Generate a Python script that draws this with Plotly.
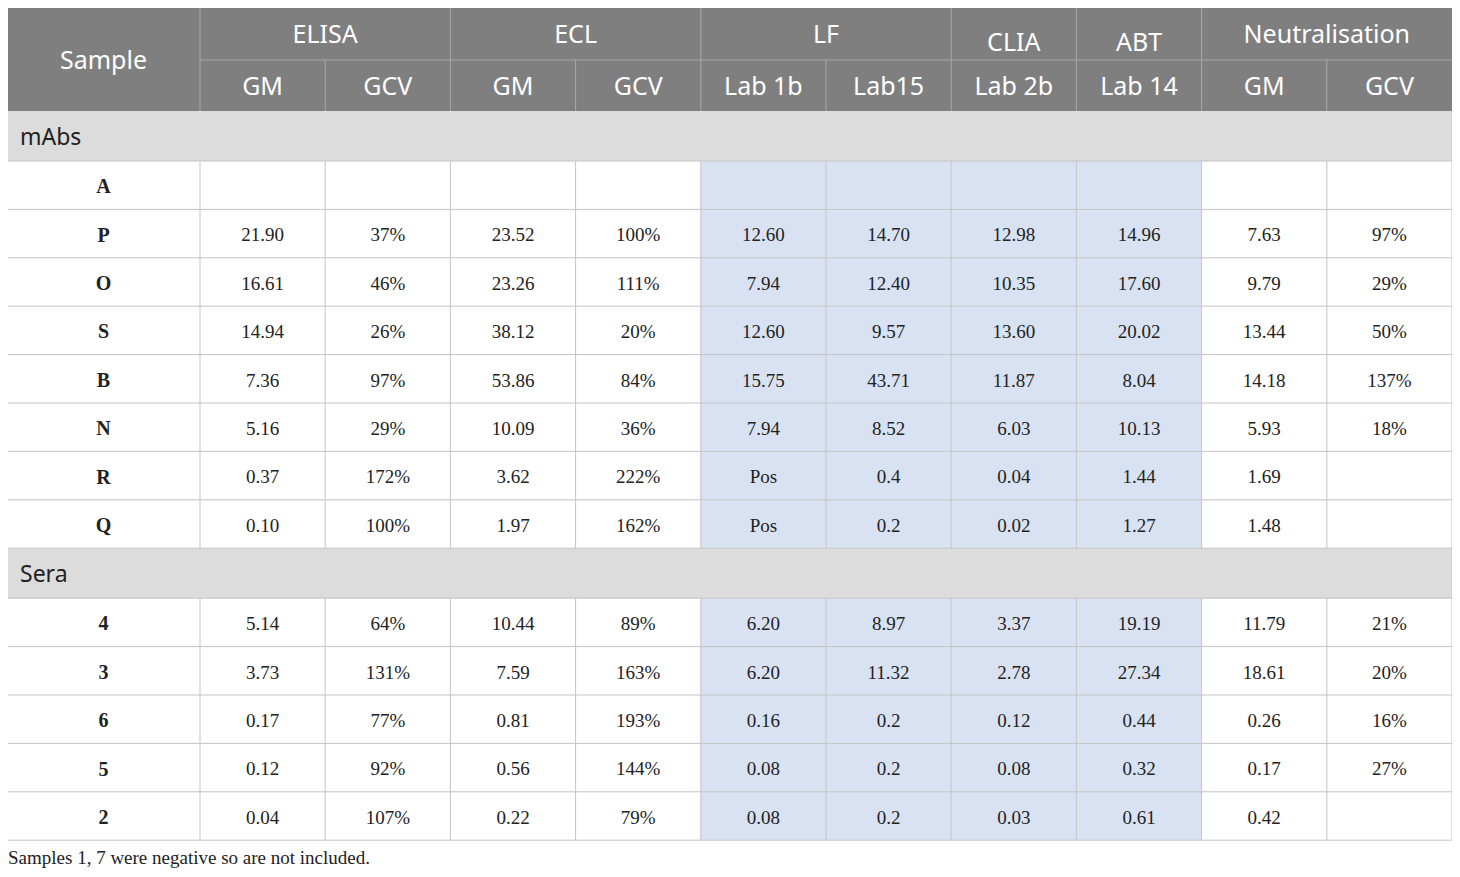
import plotly.graph_objects as go

# ---------------- data ----------------
groups = ["ELISA", "ECL", "LF", "CLIA", "ABT", "Neutralisation"]
group_spans = [2, 2, 2, 1, 1, 2]
sub_headers = ["GM", "GCV", "GM", "GCV", "Lab 1b", "Lab15", "Lab 2b", "Lab 14", "GM", "GCV"]

section_mabs = "mAbs"
samples_mabs = ["A", "P", "O", "S", "B", "N", "R", "Q"]
section_sera = "Sera"
samples_sera = ["4", "3", "6", "5", "2"]

elisa_gm = ["", "21.90", "16.61", "14.94", "7.36", "5.16", "0.37", "0.10",
            "5.14", "3.73", "0.17", "0.12", "0.04"]
elisa_gcv = ["", "37%", "46%", "26%", "97%", "29%", "172%", "100%",
             "64%", "131%", "77%", "92%", "107%"]
ecl_gm = ["", "23.52", "23.26", "38.12", "53.86", "10.09", "3.62", "1.97",
          "10.44", "7.59", "0.81", "0.56", "0.22"]
ecl_gcv = ["", "100%", "111%", "20%", "84%", "36%", "222%", "162%",
           "89%", "163%", "193%", "144%", "79%"]
lf_lab1b = ["", "12.60", "7.94", "12.60", "15.75", "7.94", "Pos", "Pos",
            "6.20", "6.20", "0.16", "0.08", "0.08"]
lf_lab15 = ["", "14.70", "12.40", "9.57", "43.71", "8.52", "0.4", "0.2",
            "8.97", "11.32", "0.2", "0.2", "0.2"]
clia_lab2b = ["", "12.98", "10.35", "13.60", "11.87", "6.03", "0.04", "0.02",
              "3.37", "2.78", "0.12", "0.08", "0.03"]
abt_lab14 = ["", "14.96", "17.60", "20.02", "8.04", "10.13", "1.44", "1.27",
             "19.19", "27.34", "0.44", "0.32", "0.61"]
neut_gm = ["", "7.63", "9.79", "13.44", "14.18", "5.93", "1.69", "1.48",
           "11.79", "18.61", "0.26", "0.17", "0.42"]
neut_gcv = ["", "97%", "29%", "50%", "137%", "18%", "", "",
            "21%", "20%", "16%", "27%", ""]

footnote = "Samples 1, 7 were negative so are not included."

columns = [elisa_gm, elisa_gcv, ecl_gm, ecl_gcv, lf_lab1b, lf_lab15,
           clia_lab2b, abt_lab14, neut_gm, neut_gcv]
highlight_cols = [4, 5, 6, 7]  # LF, CLIA, ABT columns shaded blue

# ---------------- layout constants ----------------
W, H = 1460, 877
PAGE_OFF = 8   # body margin of the page
X0 = 7
first_w = 193
col_w = 125.2
TOP = 8
HDR1, HDR2 = 52, 51
SEC_H = 50
ROW_H = 48.4
TXT_DY = 3

HEADER_BG = "#7f7f7f"
SECTION_BG = "#dcdcdc"
BLUE_BG = "#d9e2f3"
GRID = "#c4c4c4"
HDR_LINE = "#a8a8a8"

col_edges = [X0, X0 + first_w]
for i in range(len(sub_headers)):
    col_edges.append(col_edges[-1] + col_w)
X1 = col_edges[-1]
col_centers = [(col_edges[i] + col_edges[i + 1]) / 2 for i in range(len(col_edges) - 1)]

rows = [("section", section_mabs, None)]
di = 0
for s in samples_mabs:
    rows.append(("data", s, di)); di += 1
rows.append(("section", section_sera, None))
for s in samples_sera:
    rows.append(("data", s, di)); di += 1

y = TOP + HDR1 + HDR2
row_bounds = []
for kind, label, idx in rows:
    h = SEC_H if kind == "section" else ROW_H
    row_bounds.append((y, y + h))
    y += h
BOTTOM = y

shapes = []
def rect(x0, y0, x1, y1, color):
    shapes.append(dict(type="rect", xref="x", yref="y", x0=x0, x1=x1, y0=y0, y1=y1,
                       fillcolor=color, line=dict(width=0), layer="below"))
def line(x0, y0, x1, y1, color, w=1):
    shapes.append(dict(type="line", xref="x", yref="y", x0=x0, x1=x1, y0=y0, y1=y1,
                       line=dict(color=color, width=w), layer="above"))

# header
rect(X0, TOP, X1, TOP + HDR1 + HDR2, HEADER_BG)
ci = 0
group_centers = []
for g, span in zip(groups, group_spans):
    gx0 = col_edges[1 + ci]
    gx1 = col_edges[1 + ci + span]
    group_centers.append((gx0 + gx1) / 2)
    line(gx0, TOP, gx0, TOP + HDR1, HDR_LINE)
    ci += span
line(col_edges[1], TOP + HDR1, X1, TOP + HDR1, HDR_LINE)
for e in col_edges[1:-1]:
    line(e, TOP + HDR1, e, TOP + HDR1 + HDR2, HDR_LINE)

# body
for (kind, label, idx), (y0, y1) in zip(rows, row_bounds):
    if kind == "section":
        rect(X0, y0, X1, y1, SECTION_BG)
    else:
        for c in highlight_cols:
            rect(col_edges[c + 1], y0, col_edges[c + 2], y1, BLUE_BG)
        for e in col_edges[1:-1]:
            line(e, y0, e, y1, GRID)
    line(X0, y1, X1, y1, GRID)
line(X0, TOP + HDR1 + HDR2, X0, BOTTOM, GRID)
line(X1, TOP + HDR1 + HDR2, X1, BOTTOM, GRID)

fig = go.Figure()

hdr_font = dict(family="Noto Sans", size=25, color="white")
group_y = [37 if s > 1 else 45 for s in group_spans]
fig.add_trace(go.Scatter(x=group_centers, y=group_y, mode="text", text=groups,
                         textfont=hdr_font, hoverinfo="skip", showlegend=False))
fig.add_trace(go.Scatter(x=col_centers[1:], y=[TOP + HDR1 + HDR2 / 2 + 3] * len(sub_headers),
                         mode="text", text=sub_headers, textfont=hdr_font,
                         hoverinfo="skip", showlegend=False))
fig.add_trace(go.Scatter(x=[col_centers[0]], y=[TOP + (HDR1 + HDR2) / 2 + 3], mode="text",
                         text=["Sample"], textfont=hdr_font, hoverinfo="skip", showlegend=False))

sec_x, sec_y, sec_t = [], [], []
lab_x, lab_y, lab_t = [], [], []
cell_x, cell_y, cell_t = [], [], []
for (kind, label, idx), (y0, y1) in zip(rows, row_bounds):
    yc = (y0 + y1) / 2 + TXT_DY
    if kind == "section":
        sec_x.append(X0 + 13); sec_y.append(yc); sec_t.append(label)
    else:
        lab_x.append(col_centers[0]); lab_y.append(yc); lab_t.append(label)
        for c, col in enumerate(columns):
            cell_x.append(col_centers[c + 1]); cell_y.append(yc); cell_t.append(col[idx])

fig.add_trace(go.Scatter(x=sec_x, y=sec_y, mode="text", text=sec_t, textposition="middle right",
                         textfont=dict(family="Noto Sans", size=23, color="#222222"),
                         hoverinfo="skip", showlegend=False))
fig.add_trace(go.Scatter(x=lab_x, y=lab_y, mode="text", text=["<b>%s</b>" % t for t in lab_t],
                         textfont=dict(family="Liberation Serif", size=20, color="#222222"),
                         hoverinfo="skip", showlegend=False))
fig.add_trace(go.Scatter(x=cell_x, y=cell_y, mode="text", text=cell_t,
                         textfont=dict(family="Liberation Serif", size=19, color="#222222"),
                         hoverinfo="skip", showlegend=False))

fig.add_trace(go.Scatter(x=[X0 + 1], y=[BOTTOM + 19], mode="text", text=[footnote],
                         textposition="middle right", cliponaxis=False,
                         textfont=dict(family="Liberation Serif", size=19, color="#222222"),
                         hoverinfo="skip", showlegend=False))

fig.update_layout(
    width=W, height=H, margin=dict(l=0, r=0, t=0, b=0),
    paper_bgcolor="white", plot_bgcolor="white",
    xaxis=dict(range=[PAGE_OFF, W + PAGE_OFF], visible=False, fixedrange=True),
    yaxis=dict(range=[H + PAGE_OFF, PAGE_OFF], visible=False, fixedrange=True),
    shapes=shapes,
)

fig.write_html("out.html")
